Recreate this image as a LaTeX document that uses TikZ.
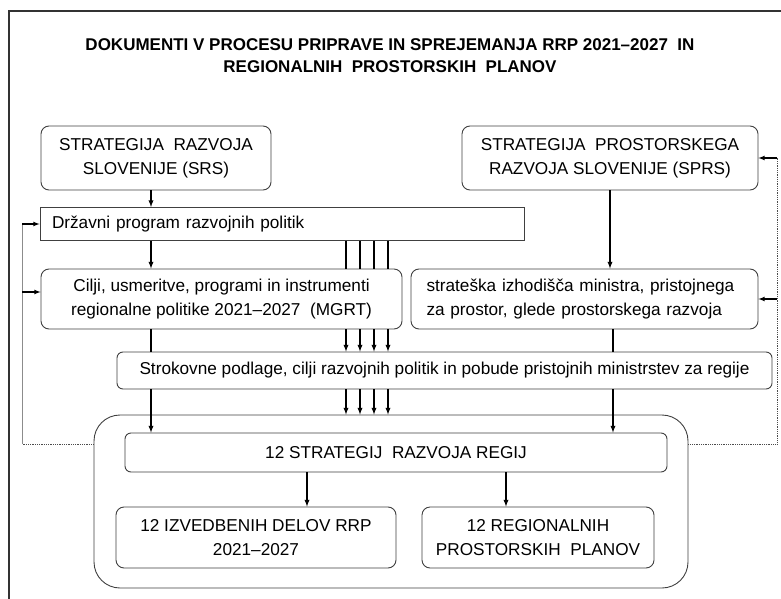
\documentclass[tikz,border=0pt]{standalone}
\usepackage{fontspec}
\setmainfont{Liberation Sans}
\begin{document}
\begin{tikzpicture}[x=1pt, y=-1pt,
	box/.style={draw=black!75, line width=0.9pt, fill=white, rounded corners=8pt,
		align=center, inner sep=0pt, font=\fontsize{17.2}{24}\selectfont},
	flat/.style={box, rounded corners=6pt},
	arr/.style={-latex, line width=1.3pt},
	bus/.style={line width=1.3pt},
	fbline/.style={black!45, line width=0.8pt},
	fbdot/.style={black!70, line width=0.8pt, densely dotted}]
\useasboundingbox (0,0) rectangle (781,599);
\draw[black!80, line width=1.2pt] (9,599) -- (9,11) -- (781,11);

\node[font=\bfseries\fontsize{17}{22}\selectfont, align=center] (title) at (390,56)
	{DOKUMENTI V PROCESU PRIPRAVE IN SPREJEMANJA RRP 2021--2027\ \ IN\\
	REGIONALNIH\ \ PROSTORSKIH\ \ PLANOV};

\node[box, minimum width=230pt, minimum height=64pt] (srs) at (156,158)
	{STRATEGIJA\ \ RAZVOJA\\SLOVENIJE (SRS)};
\node[box, minimum width=296pt, minimum height=64pt] (sprs) at (610,158)
	{STRATEGIJA\ \ PROSTORSKEGA\\RAZVOJA SLOVENIJE (SPRS)};
\node[box, rounded corners=0pt, minimum width=484pt, minimum height=33pt,
	text width=460pt, align=left] (dprp) at (282,224)
	{Državni program razvojnih politik};
\node[box, minimum width=361pt, minimum height=60pt] (cilji) at (221.5,299)
	{Cilji, usmeritve, programi in instrumenti\\regionalne politike 2021--2027\ \ (MGRT)};
\node[box, minimum width=347pt, minimum height=60pt, text width=316pt, align=left] (strat) at (584.5,299)
	{strateška izhodišča ministra, pristojnega\\za prostor, glede prostorskega razvoja};
\node[flat, minimum width=655pt, minimum height=37pt] (strok) at (444.5,370.5)
	{Strokovne podlage, cilji razvojnih politik in pobude pristojnih ministrstev za regije};

\node[box, rounded corners=26pt, minimum width=594pt, minimum height=173pt] (regije) at (391,501.5) {};
\node[flat, minimum width=542pt, minimum height=39pt] (srr) at (396,452.5)
	{12 STRATEGIJ\ \ RAZVOJA REGIJ};
\node[box, minimum width=280pt, minimum height=61pt] (izv) at (256,537.5)
	{12 IZVEDBENIH DELOV RRP\\2021--2027};
\node[box, minimum width=232pt, minimum height=61pt] (rpp) at (538,537.5)
	{12 REGIONALNIH\\PROSTORSKIH\ \ PLANOV};

% levi stolpec
\draw[arr] (151,0 |- srs.south) -- (151,0 |- dprp.north);
\draw[arr] (151,0 |- dprp.south) -- (151,0 |- cilji.north);
\draw[bus] (151,0 |- cilji.south) -- (151,0 |- strok.north);
\draw[arr] (151,0 |- strok.south) -- (151,0 |- srr.north);

% desni stolpec
\draw[arr] (sprs.south) -- (sprs.south |- strat.north);
\draw[bus] (613,0 |- strat.south) -- (613,0 |- strok.north);
\draw[arr] (613,0 |- strok.south) -- (613,0 |- srr.north);

\foreach \x in {346, 360, 374, 388} {
	\draw[bus] (\x,0 |- dprp.south) -- (\x,0 |- cilji.north);
	\draw[arr] (\x,0 |- cilji.south) -- (\x,0 |- strok.north);
	\draw[arr] (\x,0 |- strok.south) -- (\x,0 |- regije.north);
}

\draw[arr] (307,0 |- srr.south) -- (307,0 |- izv.north);
\draw[arr] (506,0 |- srr.south) -- (506,0 |- rpp.north);

% povratne zanke
\coordinate (fbL) at (22,444);
\coordinate (fbR) at (777,444);
\draw[fbdot] (regije.west |- fbL) -- (fbL);
\draw[fbline] (fbL) -- (fbL |- dprp.west);
\draw[arr, line width=1.1pt] (fbL |- dprp.west) -- (dprp.west);
\draw[arr, line width=1.1pt] ([yshift=7pt]cilji.west -| fbL) -- ([yshift=7pt]cilji.west);
\draw[fbdot] (regije.east |- fbR) -- (fbR) -- (fbR |- sprs.east);
\draw[arr, line width=1.1pt] (fbR |- sprs.east) -- (sprs.east);
\draw[arr, line width=1.1pt] (fbR |- strat.east) -- (strat.east);
\end{tikzpicture}
\end{document}
